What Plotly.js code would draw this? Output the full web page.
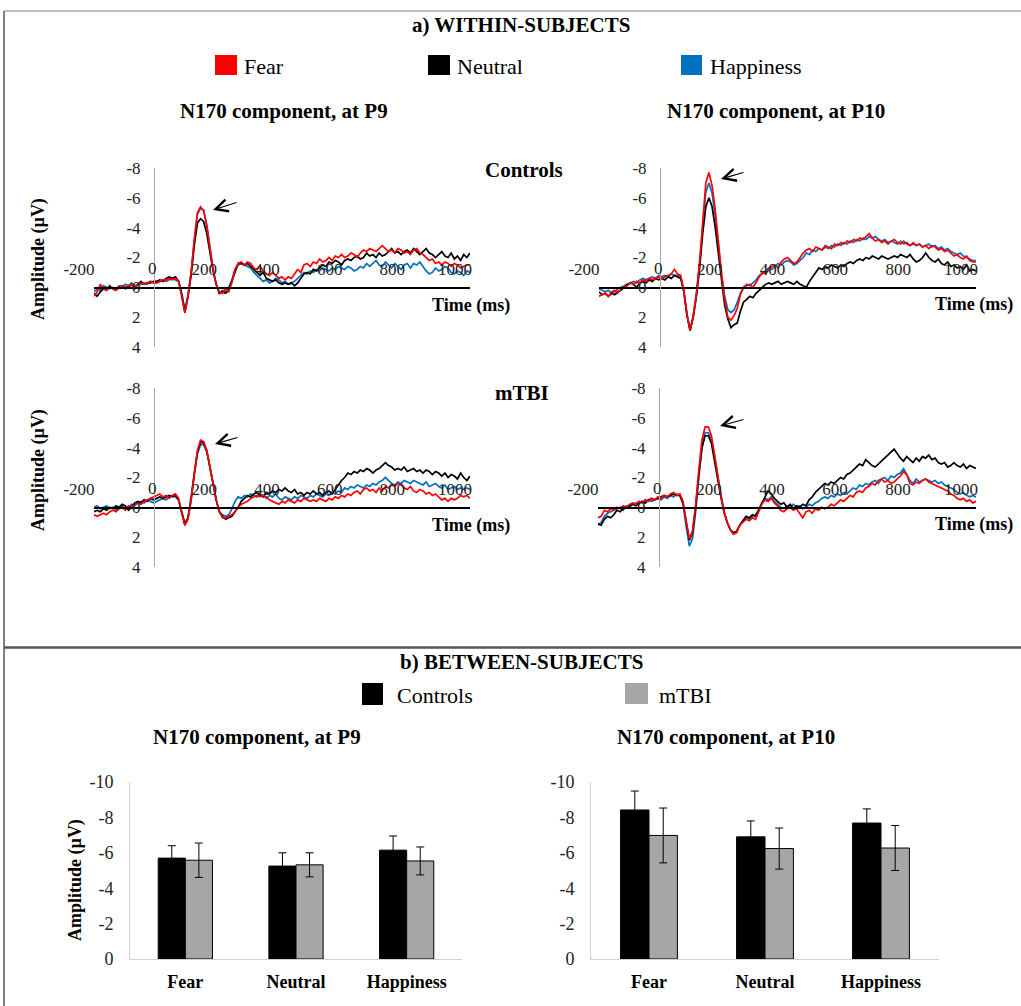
<!DOCTYPE html>
<html><head><meta charset="utf-8">
<script src="https://cdn.plot.ly/plotly-3.0.1.min.js"></script>
<style>html,body{margin:0;padding:0;background:#fff}#chart{width:1021px;height:1006px}</style>
</head><body><div id="chart"></div>
<script>
// ---------- DATA ----------
const timeMs = [
-200,-190,-180,-170,-160,-150,-140,-130,-120,-110,
-100,-90,-80,-70,-60,-50,-40,-30,-20,-10,
0,10,20,30,40,50,60,70,80,90,
100,110,120,130,140,150,160,170,180,190,
200,210,220,230,240,250,260,270,280,290,
300,310,320,330,340,350,360,370,380,390,
400,410,420,430,440,450,460,470,480,490,
500,510,520,530,540,550,560,570,580,590,
600,610,620,630,640,650,660,670,680,690,
700,710,720,730,740,750,760,770,780,790,
800,810,820,830,840,850,860,870,880,890,
900,910,920,930,940,950,960,970,980,990,
1000];

// Controls, P9
const ctrlP9Fear = [
0.6,0.3,-0.2,0.1,0.2,0.0,0.1,0.2,0.0,-0.1,
0.0,-0.1,-0.2,0.0,-0.2,-0.3,-0.2,-0.3,-0.4,-0.3,
-0.3,-0.4,-0.5,-0.5,-0.6,-0.5,-0.6,-0.4,0.6,1.7,
0.6,-1.0,-3.2,-5.0,-5.4,-5.1,-4.1,-2.5,-1.2,-0.2,
0.3,0.4,0.1,0.3,-0.3,-1.2,-1.6,-1.7,-1.5,-1.7,
-1.6,-1.3,-1.2,-1.4,-1.1,-0.9,-0.8,-1.0,-0.8,-0.6,
-0.7,-0.5,-0.7,-0.6,-0.9,-1.2,-1.0,-1.5,-1.6,-1.4,
-1.7,-1.6,-1.9,-1.7,-1.8,-2.0,-1.8,-2.1,-2.0,-2.2,
-2.0,-2.1,-2.3,-2.2,-2.0,-2.3,-2.5,-2.4,-2.6,-2.5,
-2.4,-2.6,-2.8,-2.6,-2.4,-2.5,-2.3,-2.6,-2.5,-2.3,
-2.4,-2.2,-2.5,-2.6,-2.3,-2.2,-2.0,-1.8,-1.9,-1.6,
-1.7,-1.5,-1.7,-1.6,-1.4,-1.6,-1.5,-1.3,-1.4,-1.5,
-1.5];
const ctrlP9Neutral = [
0.4,0.6,0.3,0.1,0.2,-0.1,0.1,0.2,0.0,-0.1,
0.1,0.0,-0.2,0.1,-0.2,-0.4,-0.2,-0.3,-0.3,-0.4,
-0.4,-0.5,-0.4,-0.6,-0.7,-0.6,-0.7,-0.4,0.5,1.7,
0.6,-0.8,-2.8,-4.3,-4.6,-4.4,-3.6,-2.3,-1.1,-0.2,
0.4,0.3,0.4,0.2,-0.4,-1.1,-1.6,-1.6,-1.5,-1.6,
-1.4,-1.2,-1.0,-0.8,-1.0,-0.6,-0.5,-0.4,-0.5,-0.3,
-0.2,-0.3,-0.2,-0.3,-0.1,-0.3,-0.6,-0.9,-1.0,-0.9,
-1.2,-1.1,-1.3,-1.5,-1.4,-1.7,-1.6,-1.8,-1.7,-1.5,
-1.8,-1.9,-1.8,-2.0,-2.1,-1.9,-2.0,-2.3,-2.1,-2.2,
-2.0,-2.3,-2.1,-2.2,-2.4,-2.6,-2.3,-2.4,-2.2,-2.4,
-2.5,-2.3,-2.6,-2.4,-2.2,-2.4,-2.6,-2.3,-2.2,-2.0,
-2.2,-2.4,-2.1,-2.0,-2.3,-1.9,-2.1,-1.8,-2.2,-2.0,
-2.3];
const ctrlP9Happy = [
0.3,0.1,0.2,-0.1,0.0,0.1,0.0,0.1,-0.1,0.0,
-0.2,-0.1,-0.3,-0.1,-0.2,-0.2,-0.3,-0.2,-0.4,-0.3,
-0.3,-0.4,-0.5,-0.4,-0.5,-0.6,-0.5,-0.4,0.4,1.5,
0.5,-1.0,-3.1,-4.9,-5.3,-5.2,-4.2,-2.6,-1.2,-0.2,
0.4,0.2,0.3,0.0,-0.5,-1.2,-1.5,-1.6,-1.5,-1.4,
-1.3,-1.0,-0.8,-0.6,-0.4,-0.5,-0.3,-0.4,-0.6,-0.5,
-0.3,-0.4,-0.2,-0.3,-0.4,-0.6,-0.8,-1.0,-0.9,-1.1,
-1.0,-1.2,-1.1,-1.3,-1.2,-1.1,-1.3,-1.2,-1.4,-1.3,
-1.2,-1.4,-1.3,-1.1,-1.2,-1.4,-1.3,-1.6,-1.4,-1.6,
-1.8,-1.5,-1.4,-1.7,-1.5,-1.3,-1.6,-1.4,-1.2,-1.5,
-1.6,-1.3,-1.6,-1.5,-1.7,-1.4,-1.1,-0.9,-1.0,-1.3,
-1.1,-1.2,-1.4,-1.3,-1.0,-0.9,-1.1,-1.0,-0.8,-1.1,
-1.0];

// Controls, P10
const ctrlP10Fear = [
0.6,0.5,0.4,0.6,0.3,0.2,0.4,0.1,0.0,-0.1,
-0.3,-0.2,-0.4,-0.3,-0.5,-0.4,-0.6,-0.5,-0.6,-0.7,
-0.6,-0.7,-0.8,-0.9,-1.2,-0.9,-0.8,0.2,1.8,2.9,
1.9,0.5,-1.6,-4.6,-7.0,-7.7,-6.8,-5.2,-3.0,-0.9,
0.8,2.0,2.2,1.9,1.4,0.5,0.0,-0.1,-0.2,0.0,
-0.3,-0.7,-1.0,-0.9,-1.2,-1.4,-1.5,-1.3,-1.7,-1.9,
-2.0,-1.8,-1.6,-1.7,-2.0,-2.3,-2.5,-2.6,-2.4,-2.7,
-2.6,-2.5,-2.8,-2.7,-2.6,-2.9,-2.8,-3.0,-2.9,-3.1,
-3.0,-3.2,-3.1,-3.3,-3.2,-3.4,-3.6,-3.3,-3.1,-3.2,
-3.0,-3.1,-2.9,-3.1,-3.2,-3.0,-2.9,-3.1,-2.9,-2.8,
-3.0,-2.8,-2.9,-2.7,-2.8,-2.6,-2.8,-2.7,-2.5,-2.6,
-2.4,-2.5,-2.3,-2.1,-2.2,-2.0,-1.9,-2.1,-1.8,-1.7,
-1.7];
const ctrlP10Neutral = [
0.3,0.5,0.4,0.6,0.4,0.5,0.3,0.2,0.0,-0.2,
-0.3,-0.2,0.0,-0.3,-0.4,-0.3,-0.5,-0.4,-0.6,-0.5,
-0.6,-0.5,-0.7,-0.6,-0.8,-0.7,-0.6,0.3,1.9,2.9,
2.0,0.6,-1.2,-3.6,-5.4,-6.0,-5.4,-4.0,-2.2,-0.4,
1.2,2.1,2.7,2.5,2.4,1.6,1.0,0.8,0.6,0.7,
0.4,0.2,0.0,-0.2,-0.3,-0.2,-0.3,-0.4,-0.2,-0.3,
-0.4,-0.3,-0.2,-0.4,-0.2,-0.1,0.0,-0.4,-0.7,-1.0,
-1.3,-1.2,-1.4,-1.3,-1.5,-1.4,-1.3,-1.5,-1.4,-1.6,
-1.7,-1.6,-1.8,-1.9,-1.8,-2.0,-1.9,-2.1,-2.0,-1.9,
-2.1,-2.0,-1.9,-2.0,-2.1,-2.0,-2.2,-2.1,-2.0,-2.2,
-1.9,-1.7,-1.8,-2.0,-2.3,-2.0,-1.8,-1.7,-1.9,-1.6,
-1.5,-1.7,-1.4,-1.5,-1.3,-1.4,-1.2,-1.5,-1.1,-1.2,
-1.1];
const ctrlP10Happy = [
0.1,0.2,0.3,0.2,0.4,0.3,0.1,0.0,-0.1,-0.2,
-0.3,-0.4,-0.3,-0.5,-0.6,-0.5,-0.6,-0.7,-0.6,-0.8,
-0.7,-0.8,-0.7,-0.9,-0.8,-0.8,-0.7,0.2,1.8,2.9,
1.9,0.4,-1.6,-4.3,-6.4,-7.0,-6.3,-4.8,-2.8,-0.9,
0.6,1.5,1.7,1.5,1.0,0.4,0.0,-0.2,-0.1,-0.3,
-0.5,-0.8,-0.9,-1.1,-1.3,-1.2,-1.4,-1.6,-1.5,-1.7,
-1.8,-1.7,-1.5,-1.6,-1.8,-2.0,-2.3,-2.2,-2.5,-2.4,
-2.6,-2.5,-2.7,-2.6,-2.8,-2.7,-2.9,-2.8,-3.0,-2.9,
-3.1,-3.0,-3.2,-3.1,-3.3,-3.2,-3.4,-3.3,-3.4,-3.2,
-3.1,-3.2,-3.0,-3.1,-3.0,-2.9,-3.1,-2.9,-3.0,-2.8,
-2.9,-2.8,-2.9,-2.7,-2.8,-2.9,-2.7,-2.8,-2.6,-2.7,
-2.5,-2.6,-2.4,-2.3,-2.2,-2.3,-2.1,-2.0,-1.9,-1.8,
-1.8];

// mTBI, P9
const mtbiP9Fear = [
0.5,0.6,0.5,0.4,0.5,0.3,0.2,0.3,0.1,0.0,
0.2,-0.1,0.0,-0.2,-0.3,-0.2,-0.4,-0.5,-0.6,-0.7,
-0.8,-0.9,-0.7,-0.8,-0.6,-0.8,-0.9,-0.6,0.4,1.2,
0.8,-0.5,-2.3,-3.8,-4.5,-4.4,-3.8,-2.8,-1.6,-0.5,
0.3,0.7,0.7,0.6,0.5,0.3,0.0,-0.2,-0.3,-0.4,
-0.6,-0.7,-0.8,-0.7,-0.8,-0.7,-0.5,-0.4,-0.3,-0.2,
-0.4,-0.3,-0.5,-0.4,-0.3,-0.5,-0.4,-0.6,-0.5,-0.4,
-0.5,-0.4,-0.6,-0.5,-0.4,-0.6,-0.5,-0.7,-0.6,-0.8,
-0.7,-0.9,-0.8,-1.0,-1.1,-0.9,-1.2,-1.3,-1.1,-1.2,
-1.0,-1.3,-1.1,-1.4,-1.3,-1.5,-1.4,-1.6,-1.5,-1.3,
-1.2,-1.4,-1.1,-1.0,-1.2,-1.1,-0.9,-1.0,-0.8,-0.9,
-0.7,-0.5,-0.6,-0.4,-0.6,-0.5,-0.6,-0.8,-0.7,-0.8,
-0.6];
const mtbiP9Neutral = [
0.3,0.2,0.3,0.1,0.2,0.0,0.1,-0.1,0.0,-0.2,
-0.1,0.2,0.0,-0.3,-0.4,-0.3,-0.5,-0.4,-0.6,-0.5,
-0.6,-0.7,-0.6,-0.7,-0.8,-0.7,-0.8,-0.5,0.3,1.1,
0.7,-0.5,-2.2,-3.7,-4.4,-4.3,-3.8,-2.8,-1.6,-0.5,
0.3,0.6,0.8,0.7,0.6,0.3,0.0,-0.4,-0.6,-0.8,
-0.7,-0.9,-1.0,-0.8,-0.7,-1.0,-0.9,-1.1,-1.0,-1.2,
-1.1,-1.3,-1.1,-1.0,-1.2,-0.9,-1.0,-0.8,-1.0,-0.9,
-1.1,-0.9,-1.0,-0.8,-1.0,-1.1,-0.9,-1.2,-1.5,-1.8,
-2.0,-2.3,-2.2,-2.4,-2.3,-2.5,-2.4,-2.6,-2.5,-2.3,
-2.5,-2.6,-2.8,-3.0,-2.8,-2.7,-2.5,-2.6,-2.5,-2.7,
-2.4,-2.5,-2.6,-2.4,-2.5,-2.3,-2.5,-2.4,-2.2,-2.4,
-2.3,-2.1,-2.3,-2.0,-2.2,-2.1,-1.9,-2.3,-2.0,-1.8,
-2.1];
const mtbiP9Happy = [
0.0,-0.1,0.1,0.0,-0.1,0.1,0.0,0.2,0.0,-0.1,
0.1,0.0,-0.2,-0.1,-0.3,-0.4,-0.3,-0.5,-0.4,-0.3,
-0.4,-0.5,-0.6,-0.5,-0.7,-0.8,-0.7,-0.5,0.3,1.2,
0.7,-0.6,-2.2,-3.6,-4.2,-4.2,-3.7,-2.7,-1.5,-0.5,
0.3,0.5,0.6,0.5,0.1,-0.4,-0.7,-0.6,-0.8,-0.7,
-0.9,-0.8,-0.7,-0.9,-0.8,-0.6,-0.8,-0.7,-0.9,-0.6,
-0.5,-0.7,-0.6,-0.5,-0.7,-0.6,-0.8,-0.7,-0.6,-0.8,
-0.7,-0.9,-0.8,-0.7,-0.9,-0.8,-1.0,-0.9,-1.1,-1.0,
-1.3,-1.2,-1.4,-1.3,-1.5,-1.4,-1.3,-1.5,-1.4,-1.6,
-1.5,-1.7,-1.8,-2.0,-1.8,-1.6,-1.5,-1.7,-1.6,-1.8,
-1.7,-1.6,-1.8,-1.7,-1.6,-1.5,-1.7,-1.4,-1.5,-1.6,
-1.4,-1.3,-1.5,-1.2,-1.3,-1.4,-1.2,-1.3,-1.2,-1.3,
-1.2];

// mTBI, P10
const mtbiP10Fear = [
0.7,0.6,0.2,0.3,0.1,0.2,0.0,0.1,-0.1,0.0,
-0.2,-0.3,-0.2,-0.4,-0.3,-0.5,-0.4,-0.6,-0.5,-0.7,
-0.6,-0.8,-0.7,-0.9,-1.0,-0.8,-0.9,-0.4,1.0,2.1,
1.6,-0.2,-2.5,-4.5,-5.4,-5.4,-4.8,-3.6,-2.2,-0.8,
0.3,1.0,1.5,1.8,1.7,1.2,1.0,0.8,0.9,0.7,
0.8,0.3,-0.2,-0.5,-0.4,-0.6,-0.3,-0.1,0.2,0.3,
0.1,0.0,0.2,0.1,0.4,0.7,0.3,0.2,0.4,0.1,
0.2,0.0,0.1,0.0,-0.2,-0.1,-0.3,-0.5,-0.4,-0.6,
-0.8,-0.7,-1.0,-1.1,-1.0,-1.3,-1.4,-1.6,-1.5,-1.8,
-1.9,-1.7,-1.8,-1.6,-1.7,-1.9,-2.1,-2.4,-2.2,-1.6,
-1.5,-1.7,-1.6,-1.8,-1.9,-1.7,-1.6,-1.5,-1.4,-1.3,
-1.2,-1.1,-0.9,-0.8,-0.6,-0.5,-0.6,-0.4,-0.5,-0.3,
-0.4];
const mtbiP10Neutral = [
1.1,1.2,0.8,0.6,0.7,0.5,0.2,0.3,0.1,0.0,
-0.1,-0.2,-0.1,-0.3,-0.4,-0.3,-0.5,-0.6,-0.5,-0.6,
-0.7,-0.8,-0.7,-0.8,-0.9,-0.8,-0.8,-0.3,1.1,2.2,
1.7,0.0,-2.2,-4.0,-4.8,-4.8,-4.3,-3.2,-1.9,-0.7,
0.3,1.0,1.5,1.7,1.6,1.2,0.9,0.6,0.7,0.5,
0.6,0.2,-0.3,-0.6,-1.1,-0.9,-0.6,-0.4,-0.2,-0.3,
0.0,-0.2,0.1,-0.1,0.0,-0.2,-0.1,-0.5,-0.7,-1.0,
-1.2,-1.4,-1.6,-1.5,-1.7,-1.6,-1.8,-2.0,-1.9,-2.2,
-2.3,-2.5,-2.7,-2.9,-2.8,-3.2,-3.0,-2.8,-2.7,-2.9,
-3.1,-3.3,-3.5,-3.7,-3.9,-3.6,-3.3,-3.1,-3.4,-3.2,
-3.0,-3.3,-3.1,-3.4,-3.3,-3.5,-3.2,-3.3,-3.0,-2.9,
-3.0,-2.7,-2.8,-3.0,-2.8,-2.7,-2.9,-2.6,-2.8,-2.7,
-2.6];
const mtbiP10Happy = [
1.2,1.0,0.6,0.4,0.3,0.2,0.1,0.0,0.2,-0.1,
0.0,-0.2,-0.3,-0.2,-0.4,-0.3,-0.5,-0.4,-0.5,-0.6,
-0.5,-0.7,-0.6,-0.8,-0.7,-0.9,-0.8,-0.2,1.3,2.6,
2.1,0.3,-2.0,-4.0,-5.0,-5.0,-4.6,-3.5,-2.1,-0.8,
0.3,1.0,1.5,1.8,1.7,1.2,0.9,0.7,0.8,0.6,
0.5,0.2,-0.3,-0.6,-0.5,-0.7,-0.4,-0.2,0.0,0.1,
-0.1,0.0,-0.2,0.0,-0.1,0.1,0.0,-0.2,-0.1,-0.3,
-0.4,-0.6,-0.7,-0.6,-0.8,-0.7,-0.9,-0.8,-1.0,-0.9,
-1.1,-1.3,-1.2,-1.5,-1.4,-1.6,-1.5,-1.7,-1.8,-1.6,
-1.9,-2.0,-1.8,-2.1,-2.0,-2.2,-2.3,-2.6,-2.2,-1.8,
-1.6,-1.9,-1.7,-1.8,-1.9,-1.8,-1.7,-1.8,-1.6,-1.7,
-1.5,-1.4,-1.3,-1.2,-1.0,-0.9,-1.0,-0.8,-0.7,-0.8,
-0.7];

const erpXTicks = [-200, 0, 200, 400, 600, 800, 1000];
// the "0" time label sits next to the vertical axis; it is drawn as a separate text
const erpXTickText = ['-200', '', '200', '400', '600', '800', '1000'];
const erpYTicks = [-8, -6, -4, -2, 0, 2, 4];

// Between-subjects bars (mean amplitude, µV) and error bars
const barCategories = ['Fear', 'Neutral', 'Happiness'];
const barP9Controls    = [-5.70, -5.25, -6.15];
const barP9ControlsErr = [0.70, 0.75, 0.80];
const barP9Mtbi        = [-5.58, -5.32, -5.54];
const barP9MtbiErr     = [0.97, 0.68, 0.79];
const barP10Controls    = [-8.42, -6.90, -7.68];
const barP10ControlsErr = [1.07, 0.90, 0.80];
const barP10Mtbi        = [-6.98, -6.24, -6.27];
const barP10MtbiErr     = [1.55, 1.16, 1.27];
const barYTicks = [-10, -8, -6, -4, -2, 0];

// ---------- LAYOUT HELPERS ----------
const W = 1021, H = 1006;
const px = x => x / W;
const py = y => 1 - y / H;
const FONT = 'Liberation Serif, "Times New Roman", serif';
const COL = {fear: '#ff0000', neutral: '#000000', happy: '#0070c0'};

const traces = [];
const layout = {
  width: W, height: H,
  margin: {l: 0, r: 0, t: 0, b: 0},
  paper_bgcolor: '#ffffff', plot_bgcolor: 'rgba(0,0,0,0)',
  showlegend: false,
  font: {family: FONT, color: '#000'},
  annotations: [], shapes: []
};

const erpPanels = [
  {n: '',  x0: 94,  x1: 470, y0: 168, y1: 347, yAxisPx: 154, series: [ctrlP9Happy, ctrlP9Neutral, ctrlP9Fear]},
  {n: '2', x0: 599, x1: 976, y0: 168, y1: 347, yAxisPx: 660, series: [ctrlP10Happy, ctrlP10Neutral, ctrlP10Fear]},
  {n: '3', x0: 94,  x1: 470, y0: 388, y1: 567, yAxisPx: 154, series: [mtbiP9Happy, mtbiP9Neutral, mtbiP9Fear]},
  {n: '4', x0: 598, x1: 976, y0: 388, y1: 567, yAxisPx: 659, series: [mtbiP10Happy, mtbiP10Neutral, mtbiP10Fear]}
];
const seriesColors = [COL.happy, COL.neutral, COL.fear];

function txt(text, x, y, size, opts) {
  layout.annotations.push(Object.assign({
    text: text, x: px(x), y: py(y), xref: 'paper', yref: 'paper',
    showarrow: false, xanchor: 'center', yanchor: 'middle',
    font: {family: FONT, size: size, color: '#000'}
  }, opts || {}));
}

erpPanels.forEach(p => {
  p.series.forEach((arr, i) => {
    traces.push({type: 'scatter', mode: 'lines', x: timeMs, y: arr,
      xaxis: 'x' + p.n, yaxis: 'y' + p.n,
      line: {color: seriesColors[i], width: 1.7}, hoverinfo: 'skip'});
  });
  const zeroPx = p.y0 + (p.y1 - p.y0) * 8 / 12;
  layout['xaxis' + p.n] = {
    domain: [px(p.x0), px(p.x1)], range: [-200, 1000],
    anchor: 'free', position: py(zeroPx), side: 'top',
    showline: true, linecolor: '#000', linewidth: 1.2,
    showgrid: false, zeroline: false, ticks: '',
    tickmode: 'array', tickvals: erpXTicks, ticktext: erpXTickText,
    tickfont: {family: FONT, size: 17, color: '#222'},
    ticklabelshift: -15, ticklabelstandoff: 6, fixedrange: true
  };
  layout['yaxis' + p.n] = {
    domain: [py(p.y1), py(p.y0)], range: [4, -8],
    anchor: 'free', position: px(p.yAxisPx),
    showline: true, linecolor: '#a6a6a6', linewidth: 1,
    showgrid: false, zeroline: false, ticks: '',
    tickmode: 'array', tickvals: erpYTicks, ticktext: erpYTicks.map(String),
    tickfont: {family: FONT, size: 17, color: '#222'},
    ticklabelstandoff: 10, fixedrange: true
  };
  txt('0', p.yAxisPx - 2, zeroPx - 19, 17, {font: {family: FONT, size: 17, color: '#222'}});
});

// Bar charts
const barPanels = [
  {n: '5', x0: 130, x1: 462, ctrl: barP9Controls, ctrlE: barP9ControlsErr, mt: barP9Mtbi, mtE: barP9MtbiErr},
  {n: '6', x0: 591, x1: 939, ctrl: barP10Controls, ctrlE: barP10ControlsErr, mt: barP10Mtbi, mtE: barP10MtbiErr}
];
barPanels.forEach(p => {
  traces.push({type: 'bar', x: barCategories, y: p.ctrl, xaxis: 'x' + p.n, yaxis: 'y' + p.n,
    marker: {color: '#000000', line: {color: '#000', width: 1}},
    error_y: {type: 'data', array: p.ctrlE, visible: true, color: '#000', thickness: 1, width: 4},
    hoverinfo: 'skip'});
  traces.push({type: 'bar', x: barCategories, y: p.mt, xaxis: 'x' + p.n, yaxis: 'y' + p.n,
    marker: {color: '#a6a6a6', line: {color: '#000', width: 1}},
    error_y: {type: 'data', array: p.mtE, visible: true, color: '#000', thickness: 1, width: 4},
    hoverinfo: 'skip'});
  layout['xaxis' + p.n] = {
    domain: [px(p.x0), px(p.x1)], anchor: 'y' + p.n, type: 'category',
    range: [-0.5, 2.5], showline: true, linecolor: '#d0d0d0', linewidth: 1,
    showgrid: false, zeroline: false, ticks: '',
    tickfont: {family: FONT, size: 18, color: '#000', weight: 'bold'},
    ticklabelstandoff: 6, fixedrange: true
  };
  layout['yaxis' + p.n] = {
    domain: [py(959), py(782)], anchor: 'x' + p.n, range: [0, -10],
    showline: true, linecolor: '#d0d0d0', linewidth: 1,
    showgrid: false, zeroline: false, ticks: '',
    tickmode: 'array', tickvals: barYTicks, ticktext: barYTicks.map(String),
    tickfont: {family: FONT, size: 18, color: '#222'},
    ticklabelstandoff: 12, fixedrange: true
  };
});
layout.barmode = 'group';
layout.bargap = 0.51;
layout.bargroupgap = 0;

// ---------- TEXT ----------
const B = s => '<b>' + s + '</b>';
txt(B('a) WITHIN-SUBJECTS'), 521, 25, 21);
txt(B('N170 component, at P9'), 284, 111, 21);
txt(B('N170 component, at P10'), 776, 111, 21);
txt(B('Controls'), 524, 170, 21);
txt(B('mTBI'), 522, 393, 21);
txt(B('Amplitude (µV)'), 38, 259, 18, {textangle: -90});
txt(B('Amplitude (µV)'), 38, 470, 18, {textangle: -90});
txt(B('Time (ms)'), 512, 305, 18, {xanchor: 'right'});
txt(B('Time (ms)'), 1015, 304, 18, {xanchor: 'right'});
txt(B('Time (ms)'), 512, 525, 18, {xanchor: 'right'});
txt(B('Time (ms)'), 1015, 524, 18, {xanchor: 'right'});
txt('Fear', 242, 66, 22, {xanchor: 'left'});
txt('Neutral', 455, 66, 22, {xanchor: 'left'});
txt('Happiness', 708, 66, 22, {xanchor: 'left'});

txt(B('b) BETWEEN-SUBJECTS'), 521, 662, 21);
txt('Controls', 395, 695, 22, {xanchor: 'left'});
txt('mTBI', 657, 695, 22, {xanchor: 'left'});
txt(B('N170 component, at P9'), 257, 737, 21);
txt(B('N170 component, at P10'), 726, 737, 21);
txt(B('Amplitude (µV)'), 75, 880, 18, {textangle: -90});

// Arrows pointing at the N170 peaks (head, tail in pixels)
[[213, 210, 238, 202], [721, 179, 745, 172], [215, 444, 239, 437], [720, 426, 745, 419]].forEach(a => {
  layout.annotations.push({x: px(a[0]), y: py(a[1]), xref: 'paper', yref: 'paper',
    text: '', showarrow: true, ax: a[2] - a[0], ay: a[3] - a[1],
    arrowhead: 5, arrowsize: 2.2, arrowwidth: 1.1, arrowcolor: '#000'});
});

// ---------- SHAPES (legend squares and frame) ----------
function rect(x0, y0, x1, y1, color, line) {
  layout.shapes.push({type: 'rect', xref: 'paper', yref: 'paper',
    x0: px(x0), x1: px(x1), y0: py(y1), y1: py(y0),
    fillcolor: color, line: line || {width: 0}});
}
function hline(x0, x1, y, color, w) {
  layout.shapes.push({type: 'line', xref: 'paper', yref: 'paper',
    x0: px(x0), x1: px(x1), y0: py(y), y1: py(y), line: {color: color, width: w}});
}
function vline(x, y0, y1, color, w) {
  layout.shapes.push({type: 'line', xref: 'paper', yref: 'paper',
    x0: px(x), x1: px(x), y0: py(y0), y1: py(y1), line: {color: color, width: w}});
}
rect(215, 55, 237, 75, COL.fear);
rect(428, 55, 450, 75, COL.neutral);
rect(681, 55, 702, 75, COL.happy);
rect(362, 683, 383, 705, '#000000');
rect(625, 683, 648, 704, '#a6a6a6');
hline(4, 1021, 11, '#a6a6a6', 1.5);
vline(4, 11, 1006, '#808080', 2);
hline(4, 1021, 647.5, '#555555', 2.5);

Plotly.newPlot('chart', traces, layout, {displayModeBar: false, staticPlot: true});
</script>
</body></html>
